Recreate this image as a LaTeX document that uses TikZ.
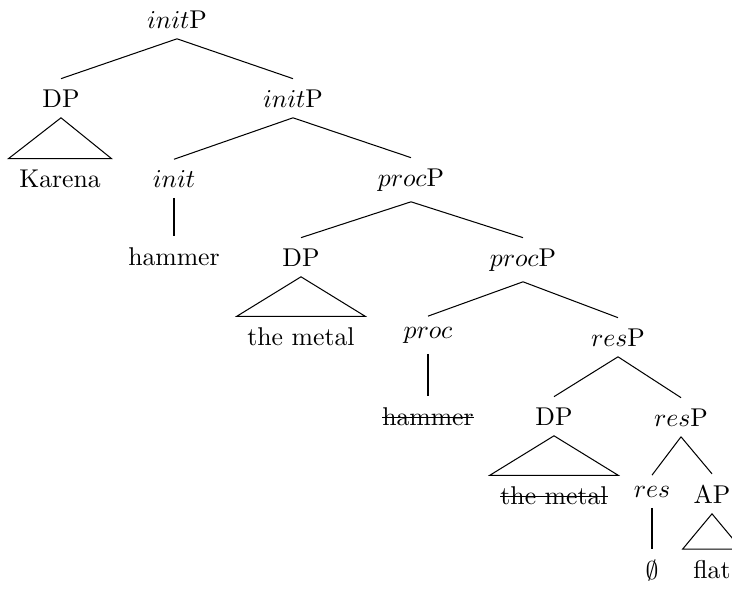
\documentclass[tikz,border=0pt]{standalone}
\newcommand\mystrike[1]{\setbox0\hbox{#1}\rlap{\rule[0.6ex]{\wd0}{0.4pt}}\box0}
\begin{document}
\begin{tikzpicture}[x=0.389pt,y=-0.389pt,
  lab/.style={anchor=base,inner sep=4pt},
  edge/.style={line width=0.4pt}]
\useasboundingbox (0,0) rectangle (732,590);
\clip (0,0) rectangle (732,590);
% level 0
\node[lab] (ip0) at (177,28) {$init$P};
% level 1
\node[lab] (dp1) at (61,107) {DP};
\node[lab] (ip1) at (293,107) {$init$P};
% level 2
\node[lab] (karena) at (60,187) {Karena};
\node[lab] (init) at (174,187) {$init$};
\node[lab] (pp2) at (411,186) {$proc$P};
% level 3
\node[lab] (hammer) at (174,265) {hammer};
\node[lab] (dp3) at (301,266) {DP};
\node[lab] (pp3) at (523,266) {$proc$P};
% level 4
\node[lab] (metal) at (301,345) {the metal};
\node[lab] (proc) at (428,338) {$proc$};
\node[lab] (rp4) at (618,346) {$res$P};
% level 5
\node[lab] (hammer2) at (428,425) {\mystrike{hammer}};
\node[lab] (dp5) at (554,425) {DP};
\node[lab] (rp5) at (681,426) {$res$P};
% level 6
\node[lab] (metal2) at (554,504) {\mystrike{the metal}};
\node[lab] (res) at (652,497) {$res$};
\node[lab] (ap) at (712,503) {AP};
% level 7
\node[lab] (empty) at (652,579) {$\emptyset$};
\node[lab] (flat) at (712,578) {flat};
% edges
\draw[edge] (ip0.south) -- (dp1.north);
\draw[edge] (ip0.south) -- (ip1.north);
\draw[edge] (dp1.south) -- (karena.north west) -- (karena.north east) -- cycle;
\draw[edge] (ip1.south) -- (init.north);
\draw[edge] (ip1.south) -- (pp2.north);
\draw[edge] (init.south) -- (hammer.north);
\draw[edge] (pp2.south) -- (dp3.north);
\draw[edge] (pp2.south) -- (pp3.north);
\draw[edge] (dp3.south) -- (metal.north west) -- (metal.north east) -- cycle;
\draw[edge] (pp3.south) -- (proc.north);
\draw[edge] (pp3.south) -- (rp4.north);
\draw[edge] (proc.south) -- (hammer2.north);
\draw[edge] (rp4.south) -- (dp5.north);
\draw[edge] (rp4.south) -- (rp5.north);
\draw[edge] (dp5.south) -- (metal2.north west) -- (metal2.north east) -- cycle;
\draw[edge] (rp5.south) -- (res.north);
\draw[edge] (rp5.south) -- (ap.north);
\draw[edge] (res.south) -- (empty.north);
\draw[edge] (ap.south) -- (flat.north west) -- (flat.north east) -- cycle;
\end{tikzpicture}
\end{document}
